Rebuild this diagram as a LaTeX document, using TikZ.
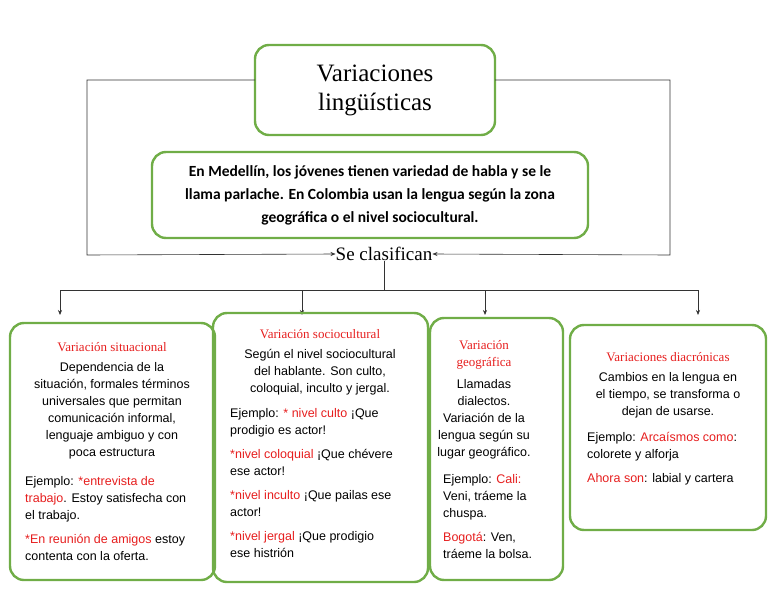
\documentclass[tikz,border=0pt]{standalone}
\usepackage{fontspec}
\setmainfont{Liberation Sans}
\newfontfamily\titlefont{Liberation Serif}
\newfontfamily\boldfont{Carlito}
\usetikzlibrary{positioning, arrows.meta}
\definecolor{boxgreen}{RGB}{112,173,71}
\definecolor{redtext}{RGB}{230,30,30}
\newcommand{\rd}[1]{\textcolor{redtext}{#1}}
\newcommand{\hd}[1]{{\titlefont\fontsize{13}{17}\selectfont\rd{#1}}}

\begin{document}
\begin{tikzpicture}[x=1pt, y=-1pt,
    every node/.style={font=\fontsize{12.5}{17}\selectfont, inner sep=0pt},
    greenbox/.style={draw=boxgreen, line width=2.4pt, rounded corners=14pt},
    link/.style={draw=black!80, line width=0.6pt},
    tip/.style={link, -{Stealth[length=5pt, width=4pt]}}]
        \useasboundingbox (0,0) rectangle (768,594);

        % Title and description
        \draw[greenbox] (255,45) rectangle (495,135);
        \node (Title) at (375,90) [align=center, font=\titlefont\fontsize{25}{29}\selectfont] {Variaciones\\lingüísticas};
        \draw[greenbox] (152,152) rectangle (588,238);
        \node (Desc) at (370,195) [align=center, font=\boldfont\bfseries\fontsize{15.5}{23}\selectfont] {En Medellín, los jóvenes tienen variedad de habla y se le\\llama parlache. En Colombia usan la lengua según la zona\\geográfica o el nivel sociocultural.};
        \node (Clas) at (384,254) [font=\titlefont\fontsize{19}{22}\selectfont] {Se clasifican};

        % Side links
        \coordinate (L1) at (255,80);
        \coordinate (R1) at (495,80);
        \draw[tip] (L1) -- (87,80) -- (87,255) -- (Clas.west);
        \draw[tip] (R1) -- (670,80) -- (670,255) -- (Clas.east);

        % Branches
        \coordinate (J) at (384,290);
        \draw[link] (Clas.south) -- (J);
        \draw[link] (60,290) -- (698,290);
        \foreach \x in {60,302,485,698}
            \draw[tip] (\x,290) -- (\x,315);

        % Boxes
        \draw[greenbox] (10,323) rectangle (215,580);
        \draw[greenbox] (213,313) rectangle (428,582);
        \draw[greenbox] (430,318) rectangle (563,580);
        \draw[greenbox] (570,325) rectangle (766,530);

        % Situacional
        \node (S1) at (112,347) {\hd{Variación situacional}};
        \node (S2) [below=10pt of S1, align=center] {Dependencia de la\\situación, formales términos\\universales que permitan\\comunicación informal,\\lenguaje ambiguo y con\\poca estructura};
        \node (S3) [anchor=north west, align=left] at (25,476) {Ejemplo: \rd{*entrevista de}\\\rd{trabajo}. Estoy satisfecha con\\el trabajo.\\[7pt]\rd{*En reunión de amigos} estoy\\contenta con la oferta.};

        % Sociocultural
        \node (C1) at (320,334) {\hd{Variación sociocultural}};
        \node (C2) [below=10pt of C1, align=center] {Según el nivel sociocultural\\del hablante. Son culto,\\coloquial, inculto y jergal.};
        \node (C3) [anchor=north west, align=left] at (230,408) {Ejemplo: \rd{* nivel culto} ¡Que\\prodigio es actor!\\[7pt]\rd{*nivel coloquial} ¡Que chévere\\ese actor!\\[7pt]\rd{*nivel inculto} ¡Que pailas ese\\actor!\\[7pt]\rd{*nivel jergal} ¡Que prodigio\\ese histrión};

        % Geografica
        \node (G1) at (484,355) [align=center] {\hd{Variación}\\\hd{geográfica}};
        \node (G2) [below=10pt of G1, align=center] {Llamadas\\dialectos.\\Variación de la\\lengua según su\\lugar geográfico.};
        \node (G3) [anchor=north west, align=left] at (443,474) {Ejemplo: \rd{Cali:}\\Veni, tráeme la\\chuspa.\\[7pt]\rd{Bogotá}: Ven,\\tráeme la bolsa.};

        % Diacronica
        \node (D1) at (668,357) {\hd{Variaciones diacrónicas}};
        \node (D2) [below=10pt of D1, align=center] {Cambios en la lengua en\\el tiempo, se transforma o\\dejan de usarse.};
        \node (D3) [anchor=north west, align=left] at (587,432) {Ejemplo: \rd{Arcaísmos como}:\\colorete y alforja\\[7pt]\rd{Ahora son}: labial y cartera};
    \end{tikzpicture}
\end{document}
